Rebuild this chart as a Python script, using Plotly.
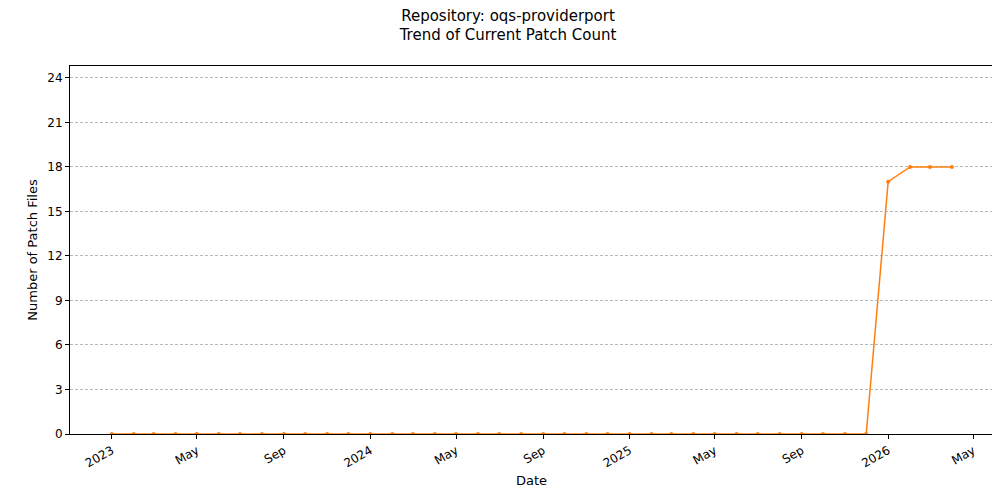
import plotly.graph_objects as go
import pandas as pd

dates = pd.date_range("2023-01-01", "2026-04-01", freq="MS")
counts = [0]*36 + [17, 18, 18, 18]

tick_vals = ["2023-01-01","2023-05-01","2023-09-01","2024-01-01","2024-05-01","2024-09-01",
             "2025-01-01","2025-05-01","2025-09-01","2026-01-01","2026-05-01"]
tick_text = ["2023","May","Sep","2024","May","Sep","2025","May","Sep","2026","May"]
y_ticks = [0,3,6,9,12,15,18,21,24]

fig = go.Figure(go.Scatter(x=dates, y=counts, mode="lines+markers",
    line=dict(color="#ff7f0e", width=1.5), marker=dict(size=4, color="#ff7f0e")))

axis_common = dict(showline=True, linecolor="black", linewidth=1, mirror=True,
                   ticks="outside", ticklen=4, tickcolor="black", automargin=False,
                   tickfont=dict(family="DejaVu Sans", size=12, color="black"), zeroline=False)
fig.update_layout(
    width=1000, height=500, paper_bgcolor="white", plot_bgcolor="white",
    margin=dict(l=62, r=15, t=58, b=74), showlegend=False,
    title=dict(text="Repository: oqs-providerport<br>Trend of Current Patch Count",
               x=0.5, xanchor="center", y=0.975, yanchor="top",
               font=dict(family="DejaVu Sans", size=15, color="black")),
    font=dict(family="DejaVu Sans", color="black"),
    xaxis=dict(range=["2022-11-03","2026-05-29"], tickvals=tick_vals, ticktext=tick_text,
               tickangle=-30, showgrid=False,
               title=dict(text="Date", font=dict(size=13), standoff=6), **axis_common),
    yaxis=dict(range=[0, 24.8], tickvals=y_ticks, showgrid=True, gridcolor="#b8b8b8",
               griddash="3px,2px", gridwidth=0.5,
               title=dict(text="Number of Patch Files", font=dict(size=13), standoff=6), **axis_common),
)
fig.write_html("out.html")
